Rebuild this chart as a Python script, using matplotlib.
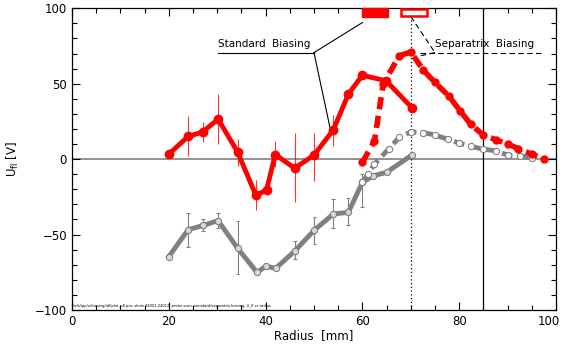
import matplotlib
matplotlib.use('Agg')
import matplotlib.pyplot as plt
import matplotlib.ticker as mtick
from matplotlib.patches import Rectangle

# Standard biasing, red (solid)
r_std_red = [20, 24, 27, 30.2, 34.2, 38, 40.2, 42, 46, 50, 54, 57.1, 60, 64.9, 70.2]
u_std_red = [3.3, 15, 18, 26.5, 4.8, -24, -20.5, 3, -6, 2.6, 19.4, 43, 55.6, 51.9, 34.2]
err_red_r = [24, 27, 30.2, 34.2, 38, 42, 46, 50, 54]
err_red_lo = [2.2, 11.5, 10, -4.5, -34, -5, -28.7, -14.4, 9]
err_red_hi = [28.7, 24.3, 43, 13, -14, 12, 17, 17.6, 29]

# Standard biasing, gray (solid)
r_std_gray = [20, 24, 27.1, 30.2, 34.2, 38.2, 40.1, 42.1, 46.1, 50.1, 54, 57.1, 60, 62.3, 65, 70.2]
u_std_gray = [-64.7, -46.8, -44, -40.8, -59, -75, -71, -72.4, -60.7, -47, -36.4, -35.3, -15.4, -11, -8.8, 2.6]
err_gray_r = [24, 27.1, 30.2, 34.2, 46.1, 50.1, 54, 57.1, 60]
err_gray_lo = [-58.5, -47.5, -46, -76, -66, -56, -46, -43.7, -32]
err_gray_hi = [-36, -40, -36, -41, -54, -38.6, -26.5, -26, -10]

# Separatrix biasing, red (dashed)
r_sep_red = [60, 62.5, 64.3, 67.6, 70, 72.6, 75, 77.8, 80.2, 82.4, 85, 87.6, 90, 92.2, 95, 97.5]
u_sep_red = [-2.2, 12.1, 49.7, 68.4, 71, 59, 50.8, 42, 32, 23, 15.9, 12.8, 10, 7, 3.3, 0]

# Separatrix biasing, gray (dashed)
r_sep_gray = [60, 61.2, 62.5, 65.4, 67.6, 70, 72.5, 75, 77.6, 80, 82.4, 85, 87.6, 90.1, 92.6, 95]
u_sep_gray = [-15.4, -10, -3.3, 6.6, 14.4, 18, 17.6, 16, 13.2, 10.6, 8.4, 6.6, 5.5, 2.6, 2.2, 0.7]

red = '#ff0000'
gray = '#808080'

fig = plt.figure(figsize=(5.65, 3.44), dpi=100)
ax = fig.add_axes([0.1274, 0.099, 0.8566, 0.877])

ax.axhline(0, color=gray, lw=1.2, zorder=1)
ax.axvline(70, color='black', lw=0.9, ls=(0, (1, 2)), zorder=1)
ax.axvline(85, color='black', lw=0.9, zorder=1)

# error bars
ax.vlines(err_red_r, err_red_lo, err_red_hi, color=red, lw=0.8, alpha=0.8, zorder=2)
ax.vlines(err_gray_r, err_gray_lo, err_gray_hi, color=gray, lw=0.8, zorder=2)
ax.hlines(err_gray_lo + err_gray_hi, [r - 0.4 for r in err_gray_r * 2],
          [r + 0.4 for r in err_gray_r * 2], color=gray, lw=0.8, zorder=2)

ax.plot(r_std_gray, u_std_gray, color=gray, lw=3.5, marker='o', ms=4.5,
        mfc='#d8d8d8', mec=gray, mew=0.8, zorder=3)
ax.plot(r_sep_gray, u_sep_gray, color=gray, lw=3.5, ls=(0, (2.2, 1.2)), marker='o',
        ms=4.5, mfc='white', mec=gray, mew=0.8, zorder=3)
ax.plot(r_std_red, u_std_red, color=red, lw=3.5, marker='o', ms=6, mfc=red,
        mec=red, zorder=4)
ax.plot(r_sep_red, u_sep_red, color=red, lw=4, ls=(0, (2.2, 1.2)), marker='o',
        ms=5, mfc=red, mec=red, zorder=4)

# annotations
ax.text(30.2, 73.2, 'Standard  Biasing', fontsize=7.5, ha='left', va='bottom')
ax.plot([30.2, 50], [70.6, 70.6], color='black', lw=0.8)
ax.plot([50, 60], [70.6, 90.5], color='black', lw=0.8)
ax.plot([50, 53.3], [70.6, 21], color='black', lw=0.8)
ax.add_patch(Rectangle((60, 94.5), 5.2, 5.5, facecolor=red, edgecolor=red,
                       clip_on=False, zorder=5))

ax.text(75, 73.2, 'Separatrix  Biasing', fontsize=7.5, ha='left', va='bottom')
ax.plot([72, 97], [70.6, 70.6], color='black', lw=0.8, ls=(0, (5, 3)))
ax.plot([70, 75], [94.5, 70.6], color='black', lw=0.8, ls=(0, (5, 3)))
ax.plot([75, 71.9], [70.6, 68.4], color='black', lw=0.8, ls=(0, (5, 3)))
ax.add_patch(Rectangle((68, 94.8), 5.3, 5.0, facecolor='white', edgecolor=red,
                       lw=1.8, clip_on=False, zorder=5))

ax.text(0.3, -99, '/afs/ipp/u/biasing/idl/plot_ufl.pro, shots 24001-24012, probe scan, '
        'standard/separatrix biasing, U_fl vs radius',
        fontsize=2.6, ha='left', va='bottom')

ax.set_xlim(0, 100)
ax.set_ylim(-100, 100)
ax.xaxis.set_major_locator(mtick.MultipleLocator(20))
ax.xaxis.set_minor_locator(mtick.MultipleLocator(5))
ax.yaxis.set_major_locator(mtick.MultipleLocator(50))
ax.yaxis.set_minor_locator(mtick.MultipleLocator(10))
ax.tick_params(which='both', direction='in', top=True, right=True, labelsize=8.5,
               width=0.8)
ax.tick_params(which='major', length=6)
ax.tick_params(which='minor', length=3.5)
ax.yaxis.set_major_formatter(mtick.FuncFormatter(lambda v, p: f'{v:.0f}'.replace('-', '\u2212')))
# last x label drawn separately so it stays inside the figure
ax.xaxis.set_major_formatter(mtick.FuncFormatter(lambda v, p: '' if v >= 100 else f'{v:.0f}'))
ax.annotate('100', (100, -100), xytext=(3, -3.5), textcoords='offset points',
            ha='right', va='top', fontsize=8.5, annotation_clip=False)
for s in ax.spines.values():
    s.set_linewidth(0.9)

ax.set_xlabel('Radius  [mm]', fontsize=8.5, labelpad=1)
ax.set_ylabel(r'U$_{\rm fl}$ [V]', fontsize=8.5, labelpad=10)

fig.savefig('out.png', dpi=100)
